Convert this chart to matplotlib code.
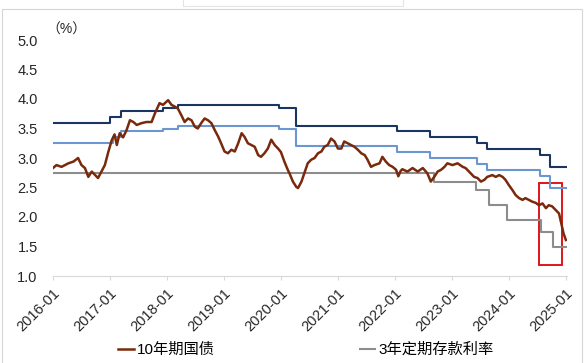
import numpy as np
import matplotlib
matplotlib.use('Agg')
import matplotlib.pyplot as plt
from matplotlib.patches import Rectangle

plt.rcParams['font.family'] = ['Liberation Sans', 'Noto Sans CJK SC', 'DejaVu Sans']

# 10年期国债收益率 (读图估计, 时间为小数年份)
bond_t = [2016.00, 2016.06, 2016.15, 2016.27, 2016.36, 2016.44, 2016.50, 2016.56, 2016.62, 2016.68,
          2016.74, 2016.79, 2016.85, 2016.91, 2016.97, 2017.03, 2017.08, 2017.12, 2017.17, 2017.23,
          2017.29, 2017.35, 2017.41, 2017.47, 2017.55, 2017.64, 2017.73, 2017.79, 2017.87, 2017.93,
          2018.02, 2018.08, 2018.14, 2018.19, 2018.25, 2018.31, 2018.37, 2018.43, 2018.49, 2018.54,
          2018.60, 2018.66, 2018.72, 2018.78, 2018.84, 2018.90, 2018.95, 2019.01, 2019.07, 2019.13,
          2019.19, 2019.25, 2019.31, 2019.36, 2019.42, 2019.48, 2019.54, 2019.60, 2019.65, 2019.71,
          2019.77, 2019.83, 2019.89, 2019.95, 2020.00, 2020.06, 2020.12, 2020.15, 2020.21, 2020.27,
          2020.30, 2020.36, 2020.41, 2020.47, 2020.53, 2020.59, 2020.65, 2020.71, 2020.76, 2020.82,
          2020.88, 2020.94, 2021.00, 2021.06, 2021.11, 2021.17, 2021.23, 2021.29, 2021.35, 2021.41,
          2021.47, 2021.52, 2021.58, 2021.64, 2021.73, 2021.78, 2021.84, 2021.90, 2021.96, 2022.02,
          2022.06, 2022.10, 2022.13, 2022.22, 2022.31, 2022.40, 2022.49, 2022.57, 2022.63, 2022.69,
          2022.75, 2022.81, 2022.87, 2022.92, 2023.01, 2023.10, 2023.19, 2023.24, 2023.33, 2023.39,
          2023.45, 2023.51, 2023.57, 2023.62, 2023.71, 2023.77, 2023.83, 2023.89, 2023.94, 2024.00,
          2024.06, 2024.12, 2024.18, 2024.24, 2024.29, 2024.35, 2024.41, 2024.47, 2024.53, 2024.59,
          2024.65, 2024.70, 2024.76, 2024.82, 2024.88, 2024.92, 2024.96, 2025.00]
bond_v = [2.83, 2.88, 2.85, 2.91, 2.94, 3.00, 2.88, 2.83, 2.68, 2.77,
          2.71, 2.66, 2.77, 2.88, 3.10, 3.30, 3.40, 3.22, 3.42, 3.35,
          3.47, 3.64, 3.61, 3.56, 3.59, 3.61, 3.61, 3.76, 3.93, 3.90,
          3.98, 3.90, 3.87, 3.84, 3.73, 3.61, 3.67, 3.64, 3.53, 3.50,
          3.59, 3.67, 3.64, 3.59, 3.47, 3.36, 3.25, 3.11, 3.08, 3.14,
          3.11, 3.25, 3.42, 3.36, 3.25, 3.22, 3.19, 3.05, 3.02, 3.08,
          3.16, 3.31, 3.22, 3.16, 3.10, 2.94, 2.80, 2.74, 2.60, 2.51,
          2.49, 2.60, 2.74, 2.91, 2.97, 3.00, 3.08, 3.11, 3.19, 3.22,
          3.33, 3.28, 3.16, 3.16, 3.28, 3.25, 3.22, 3.19, 3.14, 3.08,
          3.05, 2.97, 2.85, 2.88, 2.91, 3.02, 2.94, 2.88, 2.85, 2.80,
          2.69, 2.78, 2.81, 2.77, 2.83, 2.77, 2.83, 2.74, 2.60, 2.68,
          2.77, 2.80, 2.85, 2.91, 2.88, 2.91, 2.85, 2.83, 2.74, 2.68,
          2.66, 2.60, 2.63, 2.68, 2.71, 2.68, 2.71, 2.68, 2.63, 2.54,
          2.46, 2.37, 2.32, 2.29, 2.32, 2.29, 2.26, 2.24, 2.20, 2.23,
          2.15, 2.20, 2.18, 2.12, 2.06, 1.89, 1.72, 1.61]

# 阶梯型利率 (调整时点, 利率)
navy_t = [2016.00, 2017.00, 2017.20, 2017.93, 2018.20, 2019.97, 2020.27, 2022.03, 2022.62,
          2023.44, 2023.62, 2024.54, 2024.72, 2025.00]
navy_v = [3.60, 3.70, 3.80, 3.85, 3.90, 3.85, 3.55, 3.45, 3.35, 3.25, 3.15, 3.05, 2.85, 2.85]

blue_t = [2016.00, 2017.05, 2017.20, 2017.93, 2018.20, 2019.97, 2020.27, 2022.03, 2022.62,
          2023.44, 2023.62, 2024.54, 2024.72, 2025.00]
blue_v = [3.25, 3.35, 3.45, 3.50, 3.55, 3.50, 3.20, 3.10, 3.00, 2.90, 2.80, 2.70, 2.50, 2.50]

dep3_t = [2016.00, 2022.69, 2023.42, 2023.65, 2023.96, 2024.56, 2024.77, 2025.00]
dep3_v = [2.75, 2.60, 2.45, 2.20, 1.95, 1.75, 1.50, 1.50]

years = list(range(2016, 2026))
xlabels = [f'{y}-01' for y in years]

fig = plt.figure(figsize=(5.85, 3.63), dpi=100)
ax = fig.add_axes([53 / 585, 1 - 276 / 363, (567 - 53) / 585, 236 / 363])

ax.step(navy_t, navy_v, where='post', color='#1B3563', lw=1.5)
ax.step(blue_t, blue_v, where='post', color='#6A97D2', lw=1.5)
l2, = ax.step(dep3_t, dep3_v, where='post', color='#8C8C8C', lw=1.5)
l1, = ax.plot(bond_t, bond_v, color='#7A2A0C', lw=1.8)

# 红框标注
ax.add_patch(Rectangle((2024.53, 1.19), 0.40, 1.38, fill=False, edgecolor='#E0151A', lw=1.4))

ax.set_xlim(2016, 2025.02)
ax.set_ylim(1.0, 5.0)
ax.set_yticks(np.arange(1.0, 5.01, 0.5))
ax.set_yticklabels([f'{v:.1f}' for v in np.arange(1.0, 5.01, 0.5)])
ax.set_xticks(years)
ax.set_xticklabels(xlabels, rotation=45, ha='right', rotation_mode='anchor')

for s in ['top', 'right', 'left']:
    ax.spines[s].set_visible(False)
ax.spines['bottom'].set_color('#D9D9D9')
ax.tick_params(axis='y', length=0, pad=11, labelsize=10.5, labelcolor='#262626')
ax.tick_params(axis='x', length=3, color='#D9D9D9', pad=4, labelsize=10.5, labelcolor='#262626')

ax.text(-0.012, 1.045, '（%）', transform=ax.transAxes, fontsize=10, color='#262626', ha='left', va='center')

fig.legend([l1, l2], ['10年期国债', '3年定期存款利率'], ncol=2, loc='center',
           bbox_to_anchor=(0.523, 1 - 350 / 363), frameon=False, fontsize=11,
           handlelength=1.0, handletextpad=0.2, columnspacing=9.5, borderaxespad=0)

# 截图边框
fig.add_artist(Rectangle((2 / 585, -0.02), 580 / 585, 1 - 9 / 363 + 0.02, transform=fig.transFigure,
                         fill=False, edgecolor='#D6D6D6', lw=0.8))
fig.add_artist(Rectangle((183 / 585, 1 - 6 / 363), 220 / 585, 0.03, transform=fig.transFigure,
                         facecolor='white', edgecolor='#E4E4E4', lw=0.8))

fig.savefig('out.png', dpi=100)
